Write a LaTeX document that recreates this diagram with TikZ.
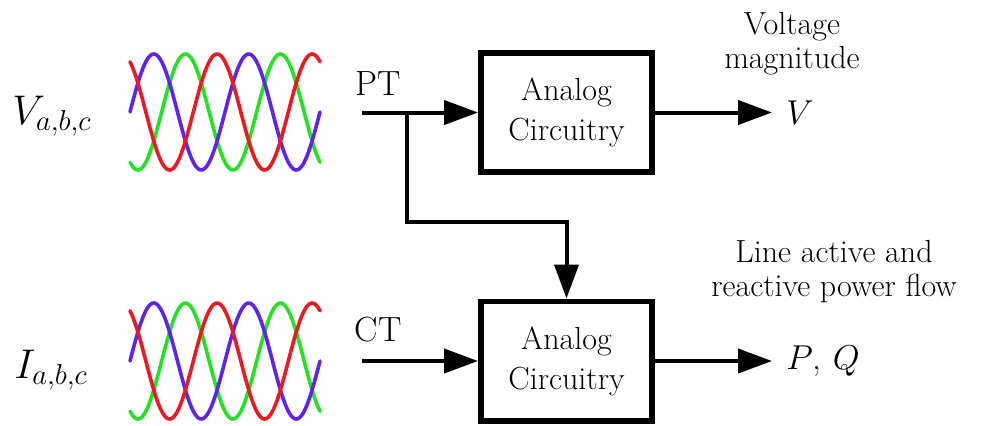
\documentclass[tikz,border=0pt]{standalone}
\usepackage{amsmath,amssymb}
\usepackage{xcolor}
\usepackage{tikz}
\usetikzlibrary{arrows.meta,positioning,calc}

\definecolor{phasered}{RGB}{235,25,35}
\definecolor{phaseblue}{RGB}{95,35,235}
\definecolor{phasegreen}{RGB}{35,225,35}

\begin{document}
\begin{tikzpicture}[
  x=0.5pt, y=-0.5pt,
  box/.style={draw, line width=2.8pt, align=center, minimum width=85.7pt, minimum height=59.7pt, inner sep=0pt, font=\fontsize{16}{20}\selectfont},
  arr/.style={-{Triangle[length=17pt, width=12pt]}, line width=2pt},
  wave/.style={line width=1.8pt, line cap=round},
  lbl/.style={align=center, inner sep=0pt, font=\fontsize{16}{17}\selectfont},
  sig/.style={anchor=west, inner sep=0pt, font=\fontsize{22}{26}\selectfont},
  outlbl/.style={anchor=west, inner ysep=0pt, inner xsep=7pt, font=\fontsize{18}{20}\selectfont}]
  \useasboundingbox (0,0) rectangle (984,425);
  \foreach \yc in {112,361}{
    \draw[wave, phasegreen] plot[domain=0:720, samples=120] ({130+\x/720*190}, {\yc-58*sin(\x-120)});
    \draw[wave, phaseblue]  plot[domain=0:720, samples=120] ({130+\x/720*190}, {\yc-58*sin(\x)});
    \draw[wave, phasered]   plot[domain=0:720, samples=120] ({130+\x/720*190}, {\yc-58*sin(\x+120)});
  }
  \node[sig] (vabc) at (12,116) {$V_{a,b,c}$};
  \node[sig] (iabc) at (14,370) {$I_{a,b,c}$};
  \node[box] (top) at (566.5,112.5) {Analog\\Circuitry};
  \node[box] (bot) at (566.5,361) {Analog\\Circuitry};
  \node[lbl, font=\fontsize{17.5}{20}\selectfont] (pt) at (378,84) {PT};
  \node[lbl, font=\fontsize{17.5}{20}\selectfont] (ct) at (378,330) {CT};
  \coordinate (ptin) at (362,112.5);
  \coordinate (ptbr) at (407,112.5);
  \coordinate (ptbend) at (566.5,222);
  \coordinate (ctin) at (362,361);
  \node[outlbl] (vout) at (772,112.5) {$V$};
  \node[outlbl] (pqout) at (772,361) {$P$, $Q$};
  \node[lbl] (vmag) at (792,44) {Voltage\\magnitude};
  \node[lbl] (pqlbl) at (834,272) {Line active and\\reactive power flow};
  \draw[arr] (ptin) -- (top);
  \draw[arr] (ptbr) |- (ptbend) -- (bot);
  \draw[arr] (ctin) -- (bot);
  \draw[arr] (top) -- (vout);
  \draw[arr] (bot) -- (pqout);
\end{tikzpicture}
\end{document}
